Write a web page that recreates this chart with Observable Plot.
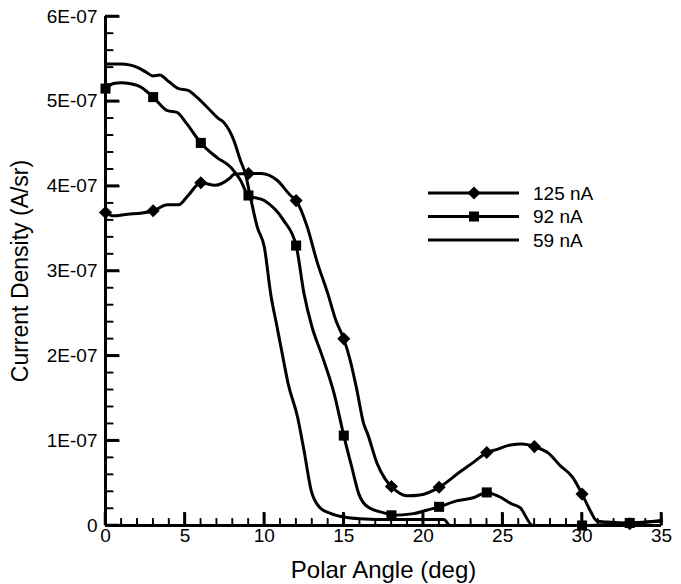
<!DOCTYPE html>
<html><head><meta charset="utf-8">
<script src="https://cdn.jsdelivr.net/npm/d3@7"></script>
<script src="https://cdn.jsdelivr.net/npm/@observablehq/plot@0.6"></script>
<style>
body{margin:0;background:#fff;}
#wrap{width:681px;height:584px;}
</style></head><body><div id="wrap"></div>
<script>
// ---- data (current density in units of 1E-07 A/sr) ----
const seriesNames = ["125 nA", "92 nA", "59 nA"];

// 125 nA curve
const angles125 = [0,0.5,1.4,2.2,3,3.9,4.6,5.2,6,6.9,7.8,8.1,9,9.8,10.8,11.65,12,12.7,13.3,14.0,14.5,15,15.4,15.8,16.25,16.5,17.1,17.6,18,19,19.8,21,22.3,23.2,24,24.7,25.5,26.2,27,27.9,28.6,29.4,30,30.5,30.95,31.6,33,35];
const density125 = [3.69,3.65,3.67,3.68,3.71,3.78,3.78,3.89,4.04,4.01,4.09,4.14,4.15,4.15,4.07,3.89,3.83,3.52,3.12,2.73,2.42,2.20,1.95,1.62,1.20,1.08,0.73,0.55,0.46,0.35,0.36,0.45,0.63,0.75,0.86,0.90,0.95,0.96,0.93,0.85,0.71,0.57,0.37,0.18,0.05,0.04,0.03,0.06];

// 92 nA curve
const angles92 = [0,0.5,1,1.5,2.2,3,3.9,4.5,5.1,6,7.0,7.9,8.5,9,10,11.2,12,12.5,13,13.6,14.4,15,15.5,15.95,16.5,17.7,18,19.4,20.2,21,22.1,23.2,24,24.4,24.9,25.5,26.1,26.9,30,33,35];
const density92 = [5.15,5.21,5.22,5.21,5.17,5.05,4.89,4.87,4.74,4.51,4.34,4.22,4.07,3.89,3.83,3.60,3.30,2.73,2.34,2.02,1.55,1.06,0.69,0.37,0.22,0.14,0.12,0.14,0.18,0.22,0.29,0.33,0.39,0.37,0.33,0.26,0.21,0.0,0.0,0.03,0.05];

// 59 nA curve
const angles59 = [0,0.5,1,1.5,2,2.5,3,3.4,4,4.6,5.2,5.8,6.4,7.1,7.45,8.08,8.5,8.8,9.08,9.55,10.0,10.4,10.8,11.15,11.5,12.1,12.5,12.95,13.5,14.2,15,16,18,20,21.3,21.7,22];
const density59 = [5.44,5.44,5.44,5.43,5.40,5.35,5.30,5.31,5.23,5.15,5.13,5.04,4.93,4.80,4.75,4.54,4.30,4.15,3.91,3.52,3.28,2.73,2.34,2.00,1.67,1.27,0.88,0.41,0.21,0.14,0.10,0.08,0.07,0.07,0.07,0.0,0.0];

// symbol markers
const markerAngles125 = [0,3,6,9,12,15,18,21,24,27,30,33];
const markers125 = [3.69,3.71,4.04,4.15,3.83,2.20,0.46,0.45,0.86,0.93,0.37,0.02];
const markerAngles92 = [0,3,6,9,12,15,18,21,24,30,33];
const markers92 = [5.15,5.05,4.51,3.89,3.30,1.06,0.12,0.22,0.39,0.0,0.03];

// axes
const xTicks = [0,5,10,15,20,25,30,35];
const yTicks = [0,1,2,3,4,5,6];
const yTickLabels = ["0","1E-07","2E-07","3E-07","4E-07","5E-07","6E-07"];
const xTitle = "Polar Angle (deg)";
const yTitle = "Current Density (A/sr)";

// ---- build ----
const zip = (xs, ys) => xs.map((x, i) => ({x, y: ys[i]}));
const line125 = zip(angles125, density125);
const line92 = zip(angles92, density92);
const line59 = zip(angles59, density59);
const dots125 = zip(markerAngles125, markers125);
const dots92 = zip(markerAngles92, markers92);

const W = 681, H = 584, mL = 105, mR = 20, mT = 16, mB = 59;
const innerW = W - mL - mR, innerH = H - mT - mB;
const xDomain = [0, 35], yDomain = [0, 6];
const pxX = (xDomain[1] - xDomain[0]) / innerW;   // data units per pixel
const pxY = (yDomain[1] - yDomain[0]) / innerH;
const xMinor = d3.range(1, 35).filter(d => d % 5 !== 0);
const yMinor = d3.range(1, 30).map(d => d / 5).filter(d => Math.abs(d - Math.round(d)) > 1e-9);
const font = "'Liberation Sans', Arial, sans-serif";
const rDiamond = 5.9, rSquare = 6.4;

// tick segments as links (start on the axis, pointing inward)
const tickLinks = [
  ...xMinor.map(v => ({x1: v, x2: v, y1: 0, y2: 7 * pxY, w: 1.4})),
  ...xTicks.map(v => ({x1: v, x2: v, y1: 0, y2: 13 * pxY, w: 2.5})),
  ...yMinor.map(v => ({x1: 0, x2: 8 * pxX, y1: v, y2: v, w: 1.4})),
  ...yTicks.map(v => ({x1: 0, x2: 14 * pxX, y1: v, y2: v, w: 2.5}))
];

const chart = Plot.plot({
  width: W, height: H,
  marginLeft: mL, marginRight: mR, marginTop: mT, marginBottom: mB,
  style: {fontFamily: font, fontSize: "19px", color: "black", background: "white"},
  x: {domain: xDomain},
  y: {domain: yDomain},
  marks: [
    Plot.axisX({ticks: xTicks, tickSize: 0, tickPadding: 3, label: null}),
    Plot.axisY({ticks: yTicks, tickSize: 0, tickPadding: 8, label: null,
      tickFormat: d => yTickLabels[yTicks.indexOf(d)]}),
    Plot.link(tickLinks.filter(d => d.w < 2), {x1: "x1", y1: "y1", x2: "x2", y2: "y2", stroke: "black", strokeWidth: 1.4}),
    Plot.link(tickLinks.filter(d => d.w >= 2), {x1: "x1", y1: "y1", x2: "x2", y2: "y2", stroke: "black", strokeWidth: 2.5}),
    Plot.ruleX([0], {strokeWidth: 3, stroke: "black"}),
    Plot.ruleY([0], {strokeWidth: 3, stroke: "black"}),
    Plot.line(line59, {x: "x", y: "y", curve: "monotone-x", strokeWidth: 3, stroke: "black"}),
    Plot.line(line92, {x: "x", y: "y", curve: "monotone-x", strokeWidth: 3, stroke: "black"}),
    Plot.line(line125, {x: "x", y: "y", curve: "monotone-x", strokeWidth: 3, stroke: "black"}),
    Plot.dot(dots92, {x: "x", y: "y", symbol: "square2", r: rSquare, fill: "black", stroke: "none"}),
    Plot.dot(dots125, {x: "x", y: "y", symbol: "diamond2", r: rDiamond, fill: "black", stroke: "none"}),
    Plot.text([xTitle], {text: d => d, frameAnchor: "bottom", textAnchor: "middle", lineAnchor: "middle",
      dy: 45, fontSize: 24, fill: "black"}),
    Plot.text([yTitle], {text: d => d, frameAnchor: "left", textAnchor: "middle", lineAnchor: "middle",
      dx: -85, rotate: -90, fontSize: 23, fill: "black"})
  ]
});
document.getElementById("wrap").appendChild(chart);

// legend, drawn inside the chart's SVG
const legendSymbols = [d3.symbolDiamond2, d3.symbolSquare2, null];
const legendR = [rDiamond, rSquare, 0];
const lg = d3.select(chart).append("g").attr("aria-label", "legend");
const rows = lg.selectAll("g").data(seriesNames).join("g")
  .attr("transform", (d, i) => `translate(428,${193 + i * 23.5})`);
rows.append("line").attr("x1", 0).attr("x2", 91).attr("y1", 0).attr("y2", 0)
  .attr("stroke", "black").attr("stroke-width", 3);
rows.filter((d, i) => legendSymbols[i]).append("path")
  .attr("transform", "translate(46,0)")
  .attr("d", (d, i) => d3.symbol(legendSymbols[i], Math.PI * legendR[i] * legendR[i])())
  .attr("fill", "black");
rows.append("text").attr("x", 105).attr("y", 0).attr("dy", "0.35em")
  .attr("font-family", font).attr("font-size", 19).attr("fill", "black")
  .attr("text-anchor", "start")
  .text(d => d);

// the same ticks once more as plain SVG lines, placed through the chart's scales
const scX = chart.scale("x"), scY = chart.scale("y");
const linX = d3.scaleLinear(scX.domain, scX.range), linY = d3.scaleLinear(scY.domain, scY.range);
const tg = d3.select(chart).append("g").attr("aria-label", "inner ticks");
for (const t of tickLinks) {
  tg.append("line")
    .attr("x1", linX(t.x1)).attr("x2", linX(t.x2))
    .attr("y1", linY(t.y1)).attr("y2", linY(t.y2))
    .attr("stroke", "black").attr("stroke-width", t.w);
}
</script>
</body></html>
